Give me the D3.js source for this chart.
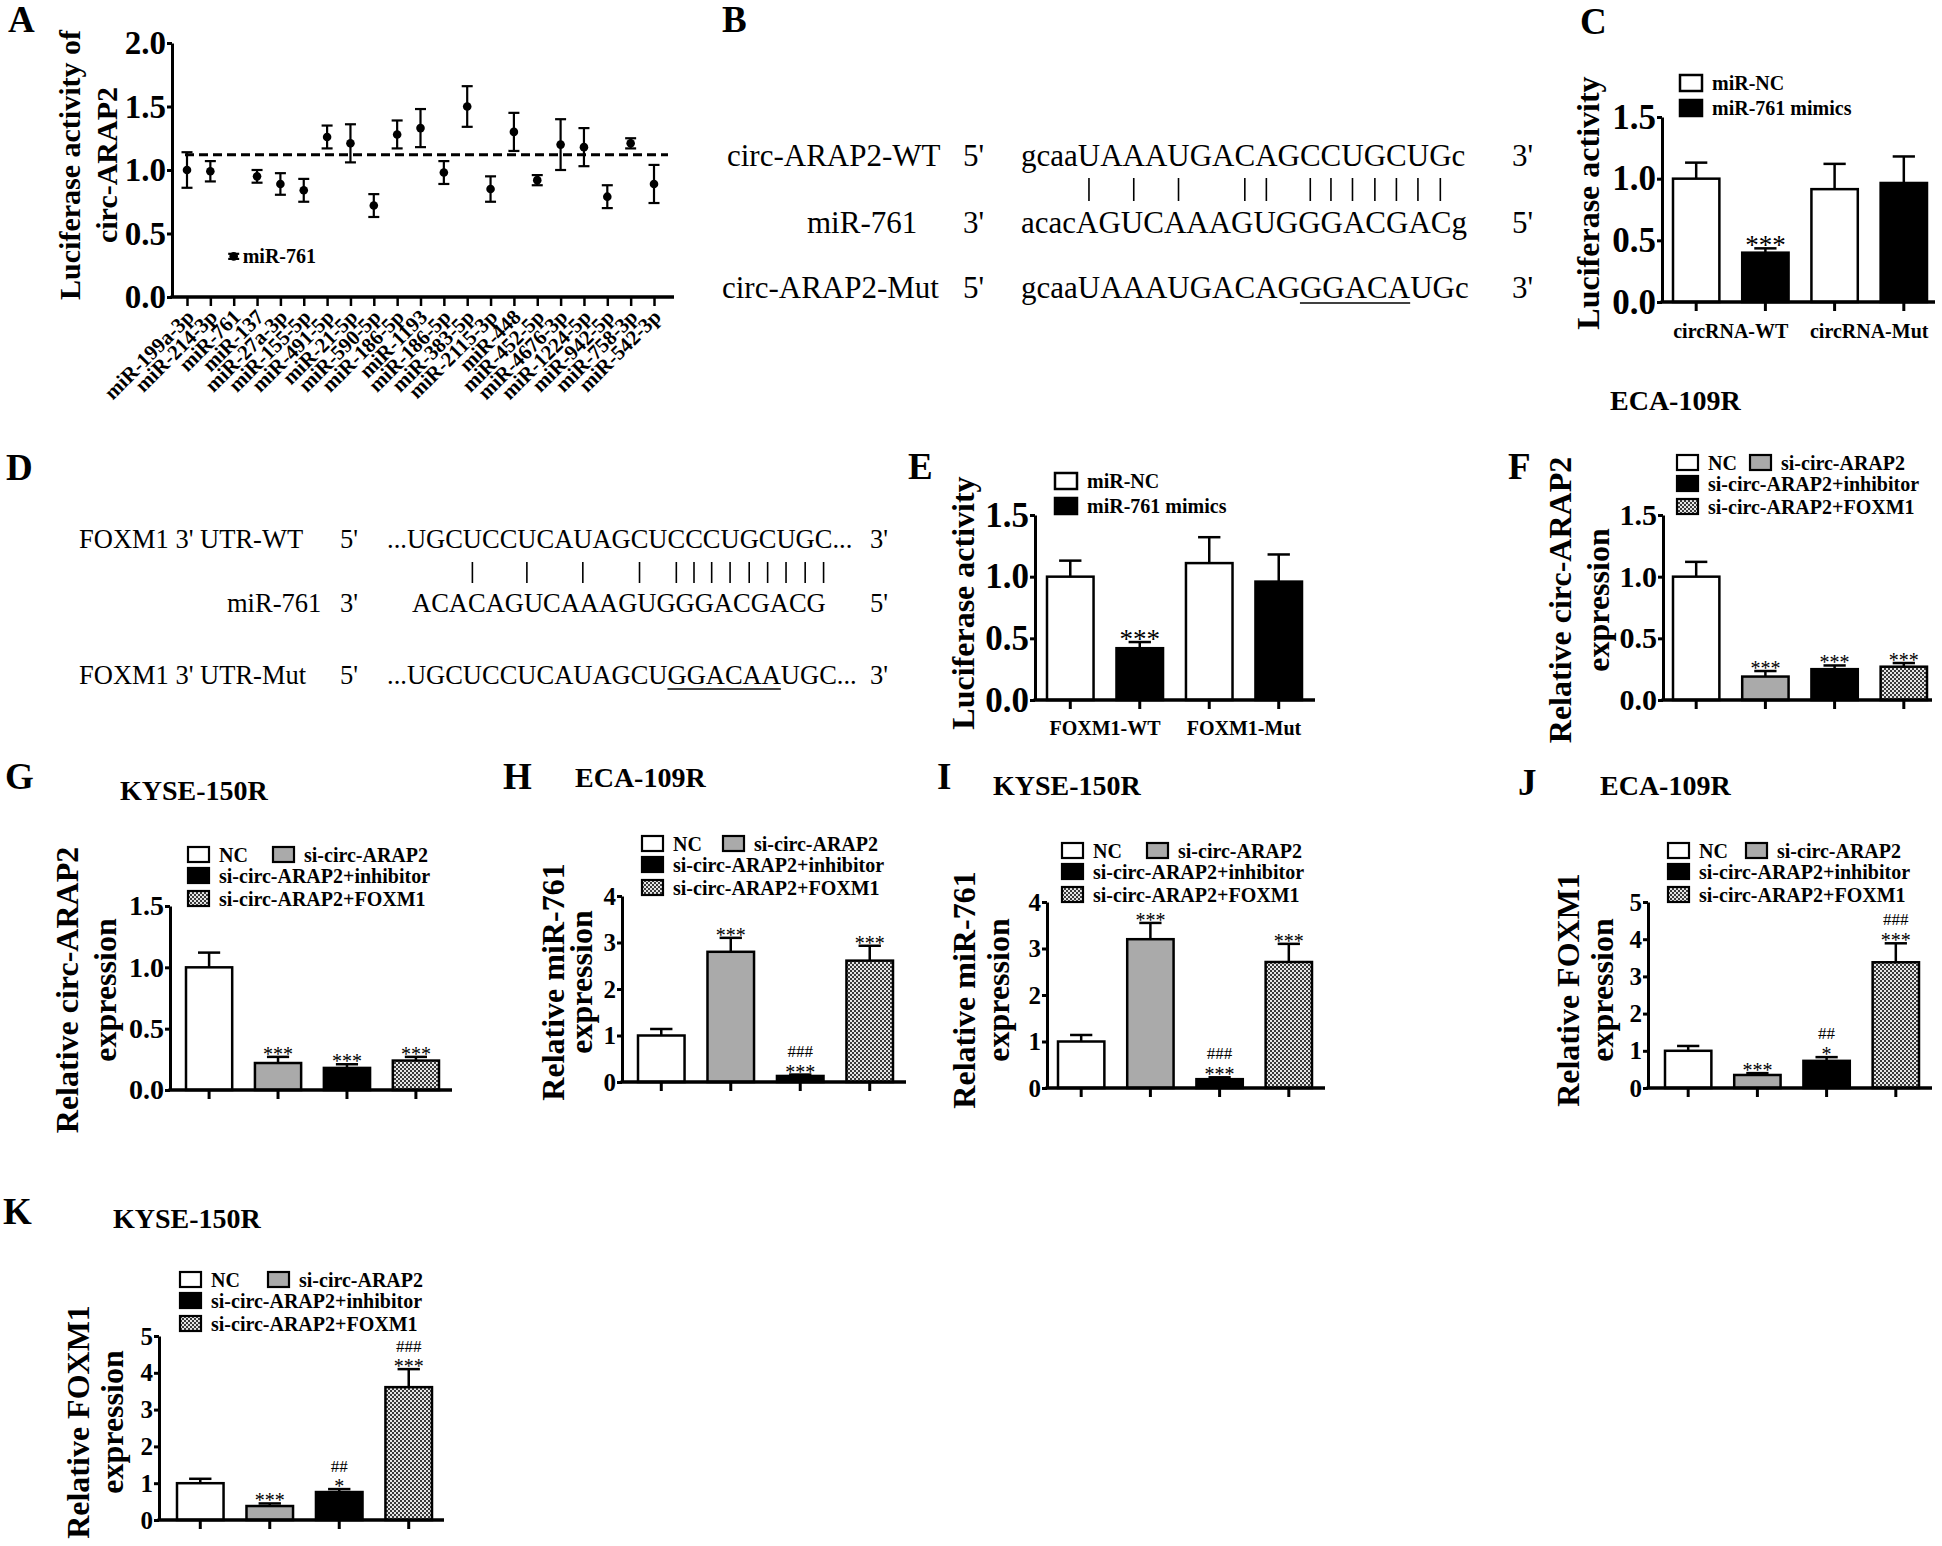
<!DOCTYPE html>
<html><head><meta charset="utf-8">
<script src="https://cdn.jsdelivr.net/npm/d3@7"></script>
<style>
html,body{margin:0;padding:0;background:#fff;}
svg{display:block;}
text{font-family:"Liberation Serif","Times New Roman",serif;fill:#000;}
</style></head><body>
<svg id="fig" width="1942" height="1546"></svg>
<script>
// ================= DATA =================
// Panel A: luciferase screen
const screenCategories = ["miR-199a-3p","miR-214-3p","miR-761","miR-137","miR-27a-3p","miR-155-5p","miR-491-5p","miR-21-5p","miR-590-5p","miR-186-5p","miR-1193","miR-186-5p","miR-383-5p","miR-2115-3p","miR-448","miR-452-5p","miR-4676-3p","miR-1224-5p","miR-942-5p","miR-758-3p","miR-542-3p"];
const screenMeans  = [1.00,0.99,0.32,0.95,0.89,0.84,1.26,1.21,0.72,1.28,1.33,0.98,1.50,0.85,1.30,0.92,1.20,1.18,0.79,1.21,0.89];
const screenErrors = [0.14,0.08,0.02,0.05,0.085,0.09,0.09,0.15,0.09,0.11,0.15,0.09,0.16,0.10,0.15,0.04,0.20,0.15,0.09,0.04,0.15];
const screenThreshold = 1.12;
const screenYTicks = [0,0.5,1.0,1.5,2.0];
const screenHighlight = "miR-761";

// Panels B / D: sequences
const circLabels = ["circ-ARAP2-WT","miR-761","circ-ARAP2-Mut"];
const circEnds   = [["5'","3'"],["3'","5'"],["5'","3'"]];
const circSeqs   = ["gcaaUAAAUGACAGCCUGCUGc","acacAGUCAAAGUGGGACGACg","gcaaUAAAUGACAGGGACAUGc"];
const circPairs  = [4,6,8,11,12,14,15,16,17,18,19,20];
const circMutSpan = [14,18];
const foxLabels  = ["FOXM1 3' UTR-WT","miR-761","FOXM1 3' UTR-Mut"];
const foxEnds    = [["5'","3'"],["3'","5'"],["5'","3'"]];
const foxSeqs    = ["...UGCUCCUCAUAGCUCCCUGCUGC...","ACACAGUCAAAGUGGGACGACG","...UGCUCCUCAUAGCUGGACAAUGC..."];
const foxPairs   = [6,9,12,15,17,18,19,20,21,22,23,24,25];
const foxMutSpan = [17,22];

// Panels C / E: dual luciferase
const lucSeries  = ["miR-NC","miR-761 mimics"];
const lucYTicks  = [0,0.5,1.0,1.5];
const lucCGroups = ["circRNA-WT","circRNA-Mut"];
const lucCMeans  = [1.00,0.40,0.915,0.965];
const lucCErrors = [0.13,0.035,0.205,0.215];
const lucCSig    = [[],["***"],[],[]];
const lucEGroups = ["FOXM1-WT","FOXM1-Mut"];
const lucEMeans  = [1.00,0.42,1.11,0.96];
const lucEErrors = [0.13,0.05,0.21,0.22];
const lucESig    = [[],["***"],[],[]];

// Panels F-K: rescue experiments
const rescueGroups = ["NC","si-circ-ARAP2","si-circ-ARAP2+inhibitor","si-circ-ARAP2+FOXM1"];
const circYTicks = [0,0.5,1.0,1.5];
const mirYTicks  = [0,1,2,3,4];
const foxYTicks  = [0,1,2,3,4,5];
const fMeans = [1.00,0.19,0.25,0.27], fErrors = [0.12,0.045,0.03,0.03], fSig = [[],["***"],["***"],["***"]];
const gMeans = [1.00,0.22,0.18,0.24], gErrors = [0.12,0.05,0.03,0.03], gSig = [[],["***"],["***"],["***"]];
const hMeans = [1.00,2.80,0.13,2.61], hErrors = [0.14,0.30,0.03,0.32], hSig = [[],["***"],["***","###"],["***"]];
const iMeans = [1.00,3.20,0.19,2.71], iErrors = [0.14,0.35,0.04,0.39], iSig = [[],["***"],["***","###"],["***"]];
const jMeans = [1.00,0.35,0.73,3.38], jErrors = [0.13,0.05,0.10,0.51], jSig = [[],["***"],["*","##"],["***","###"]];
const kMeans = [1.00,0.38,0.76,3.61], kErrors = [0.12,0.07,0.08,0.49], kSig = [[],["***"],["*","##"],["***","###"]];

// ================= DRAWING =================
const svg = d3.select("#fig");
const defs = svg.append("defs");
const pat = defs.append("pattern").attr("id","chk").attr("width",4).attr("height",4).attr("patternUnits","userSpaceOnUse");
pat.append("rect").attr("width",4).attr("height",4).attr("fill","#e6e6e6");
pat.append("rect").attr("width",2).attr("height",2).attr("fill","#3a3a3a");
pat.append("rect").attr("x",2).attr("y",2).attr("width",2).attr("height",2).attr("fill","#3a3a3a");

const lucFills = ["#fff","#000"];
const rescueFills = ["#fff","#aaaaaa","#000","url(#chk)"];

function letter(l,x,y){
  svg.append("text").attr("x",x).attr("y",y).attr("font-size",37).attr("font-weight","bold").text(l);
}
function yTitle(lines,xs,cy,fs){
  lines.forEach((t,i)=>svg.append("text")
    .attr("transform",`translate(${xs[i]},${cy}) rotate(-90)`)
    .attr("text-anchor","middle").attr("font-size",fs).attr("font-weight","bold").text(t));
}
function styleAxis(g,fs){
  g.select(".domain").attr("stroke","#000").attr("stroke-width",3);
  g.selectAll(".tick line").attr("stroke","#000").attr("stroke-width",3);
  g.selectAll(".tick text").attr("font-size",fs).attr("font-weight","bold")
    .attr("font-family","'Liberation Serif','Times New Roman',serif").attr("fill","#000");
}

// ---------- Panel A ----------
(function(){
  const axisX=172, axisEnd=674, y0=297, yTop=43;
  const y = d3.scaleLinear().domain([0,2]).range([y0,yTop]);
  const x = d3.scalePoint().domain(d3.range(screenCategories.length)).range([187,654]);
  const g = svg.append("g");
  g.append("line").attr("x1",185).attr("x2",668).attr("y1",y(screenThreshold)).attr("y2",y(screenThreshold))
    .attr("stroke","#000").attr("stroke-width",3).attr("stroke-dasharray","9,5");
  screenMeans.forEach((m,i)=>{
    const cx=x(i), e=screenErrors[i];
    g.append("line").attr("x1",cx).attr("x2",cx).attr("y1",y(m-e)).attr("y2",y(m+e)).attr("stroke","#000").attr("stroke-width",2.2);
    [m-e,m+e].forEach(v=>g.append("line").attr("x1",cx-5.5).attr("x2",cx+5.5).attr("y1",y(v)).attr("y2",y(v)).attr("stroke","#000").attr("stroke-width",2.2));
    g.append("circle").attr("cx",cx).attr("cy",y(m)).attr("r",4.3).attr("fill","#000");
  });
  const hi = screenCategories.indexOf(screenHighlight);
  g.append("text").attr("x",x(hi)+9).attr("y",y(screenMeans[hi])+7).attr("font-size",20).attr("font-weight","bold").text(screenHighlight);
  const ya = g.append("g").attr("transform",`translate(${axisX},0)`)
    .call(d3.axisLeft(y).tickValues(screenYTicks).tickFormat(d3.format(".1f")).tickSize(5).tickSizeOuter(0).tickPadding(1));
  styleAxis(ya,33);
  g.append("line").attr("x1",axisX-1.5).attr("x2",axisEnd).attr("y1",y0).attr("y2",y0).attr("stroke","#000").attr("stroke-width",3.5);
  const xa = g.append("g").attr("transform",`translate(0,${y0})`)
    .call(d3.axisBottom(x).tickSize(9).tickFormat(""));
  xa.select(".domain").remove();
  xa.selectAll(".tick line").attr("stroke","#000").attr("stroke-width",2.5);
  screenCategories.forEach((c,i)=>{
    g.append("text").attr("transform",`translate(${x(i)+3},${y0+16}) rotate(-45)`)
      .attr("text-anchor","end").attr("dy","0.35em").attr("font-size",21).attr("font-weight","bold").text(c);
  });
  yTitle(["Luciferase activity of","circ-ARAP2"],[80,117],165,30);
})();

// ---------- Sequence panels ----------
function seqPanel(c){
  const nodes=[];
  c.seqs.forEach((s,i)=>{
    svg.append("text").attr("x",c.labelX[i]).attr("y",c.base[i]).attr("font-size",c.fs).text(c.labels[i]);
    svg.append("text").attr("x",c.primeX).attr("y",c.base[i]).attr("font-size",c.fs).text(c.ends[i][0]);
    const t=svg.append("text").attr("x",c.seqX[i]).attr("y",c.base[i]).attr("font-size",c.fs).text(s);
    nodes.push(t.node());
    svg.append("text").attr("x",c.endX).attr("y",c.base[i]).attr("font-size",c.fs).text(c.ends[i][1]);
  });
  c.pairs.forEach(k=>{
    const r=nodes[0].getExtentOfChar(k);
    const cx=r.x+r.width/2;
    svg.append("line").attr("x1",cx).attr("x2",cx).attr("y1",c.pairY[0]).attr("y2",c.pairY[1]).attr("stroke","#000").attr("stroke-width",1.6);
  });
  const a=nodes[2].getExtentOfChar(c.mut[0]), b=nodes[2].getExtentOfChar(c.mut[1]);
  svg.append("line").attr("x1",a.x).attr("x2",b.x+b.width).attr("y1",c.base[2]+5).attr("y2",c.base[2]+5).attr("stroke","#000").attr("stroke-width",1.6);
}
seqPanel({labels:circLabels,ends:circEnds,seqs:circSeqs,pairs:circPairs,mut:circMutSpan,
  labelX:[727,807,722],primeX:963,seqX:[1021,1021,1021],endX:1512,base:[166,233,298],pairY:[178,201],fs:31});
seqPanel({labels:foxLabels,ends:foxEnds,seqs:foxSeqs,pairs:foxPairs,mut:foxMutSpan,
  labelX:[79,227,79],primeX:340,seqX:[387,412,387],endX:870,base:[548,612,684],pairY:[562,583],fs:26.5});

// ---------- Bar panel ----------
function barPanel(p){
  const g=svg.append("g");
  const y=d3.scaleLinear().domain([0,p.yMax]).range([p.y0,p.yTop]);
  const x=d3.scaleBand().domain(d3.range(p.means.length)).range(p.barRange).paddingInner(0.33).paddingOuter(0);
  const bw=x.bandwidth(), cap=bw*0.48;
  p.means.forEach((m,i)=>{
    const cx=x(i)+bw/2, top=y(m+p.errors[i]);
    g.append("line").attr("x1",cx).attr("x2",cx).attr("y1",y(m)).attr("y2",top).attr("stroke","#000").attr("stroke-width",2.5);
    g.append("line").attr("x1",cx-cap/2).attr("x2",cx+cap/2).attr("y1",top).attr("y2",top).attr("stroke","#000").attr("stroke-width",2.5);
  });
  g.selectAll("rect.bar").data(p.means).enter().append("rect").attr("class","bar")
    .attr("x",(d,i)=>x(i)).attr("y",d=>y(d)).attr("width",bw).attr("height",d=>p.y0-y(d))
    .attr("fill",(d,i)=>p.fills[i%p.fills.length]).attr("stroke","#000").attr("stroke-width",2.5);
  // significance marks, bottom line first
  p.means.forEach((m,i)=>{
    const marks=p.sig[i]||[];
    let b=y(m+p.errors[i])+p.sigOff;
    const cx=x(i)+bw/2;
    marks.forEach((s,k)=>{
      const isHash=s.indexOf("#")>=0;
      g.append("text").attr("x",cx).attr("y",b).attr("text-anchor","middle")
        .attr("font-size",isHash?p.hashFont:p.starFont).attr("fill",p.sigColor).text(s);
      b-=p.sigStep;
    });
  });
  const ya=g.append("g").attr("transform",`translate(${p.axisX},0)`)
    .call(d3.axisLeft(y).tickValues(p.ticks).tickFormat(p.fmt).tickSize(5).tickSizeOuter(0).tickPadding(1));
  styleAxis(ya,p.tickFont);
  g.append("line").attr("x1",p.axisX-1.5).attr("x2",p.axisEnd).attr("y1",p.y0).attr("y2",p.y0).attr("stroke","#000").attr("stroke-width",3.5);
  const xa=g.append("g").attr("transform",`translate(0,${p.y0})`).call(d3.axisBottom(x).tickSize(9).tickFormat(""));
  xa.select(".domain").remove();
  xa.selectAll(".tick line").attr("stroke","#000").attr("stroke-width",3);
  if(p.groups){
    p.groups.forEach((t,gi)=>{
      const cx=(x(2*gi)+x(2*gi+1)+bw)/2;
      g.append("text").attr("x",cx).attr("y",p.labelY).attr("text-anchor","middle").attr("font-size",20).attr("font-weight","bold").text(t);
    });
  }
  yTitle(p.title,p.titleX,p.titleY,32);
}

function lucLegend(x,y){
  lucSeries.forEach((s,i)=>{
    svg.append("rect").attr("x",x).attr("y",y+i*25).attr("width",22).attr("height",16)
      .attr("fill",lucFills[i]).attr("stroke","#000").attr("stroke-width",2.5);
    svg.append("text").attr("x",x+32).attr("y",y+i*25+15).attr("font-size",20).attr("font-weight","bold").text(s);
  });
}
function rescueLegend(x,y,dx){
  const pos=[[x,y],[x+dx,y],[x,y+21],[x,y+44]];
  rescueGroups.forEach((s,i)=>{
    svg.append("rect").attr("x",pos[i][0]).attr("y",pos[i][1]).attr("width",21).attr("height",15)
      .attr("fill",rescueFills[i]).attr("stroke","#000").attr("stroke-width",2.2);
    svg.append("text").attr("x",pos[i][0]+31).attr("y",pos[i][1]+15).attr("font-size",20).attr("font-weight","bold").text(s);
  });
}
function cellTitle(t,x,y){
  svg.append("text").attr("x",x).attr("y",y).attr("font-size",28).attr("font-weight","bold").text(t);
}

const f1=d3.format(".1f"), f0=d3.format("d");
const lucCommon={fills:lucFills,ticks:lucYTicks,fmt:f1,yMax:1.5,tickFont:35,sigColor:"#000",starFont:27,hashFont:22,sigOff:6,sigStep:22};
barPanel(Object.assign({},lucCommon,{means:lucCMeans,errors:lucCErrors,sig:lucCSig,groups:lucCGroups,
  axisX:1662,axisEnd:1935,y0:302,yTop:117,barRange:[1673,1927],labelY:338,title:["Luciferase activity"],titleX:[1599],titleY:203}));
lucLegend(1680,75);
barPanel(Object.assign({},lucCommon,{means:lucEMeans,errors:lucEErrors,sig:lucESig,groups:lucEGroups,
  axisX:1035,axisEnd:1315,y0:700,yTop:515,barRange:[1047,1302],labelY:735,title:["Luciferase activity"],titleX:[974],titleY:603}));
lucLegend(1055,473);

const resCommon={fills:rescueFills,sigColor:"#555",starFont:20,hashFont:17,sigOff:4,sigStep:22};
barPanel(Object.assign({},resCommon,{means:fMeans,errors:fErrors,sig:fSig,ticks:circYTicks,fmt:f1,yMax:1.5,tickFont:30,
  axisX:1663,axisEnd:1932,y0:700,yTop:515,barRange:[1673,1927],title:["Relative circ-ARAP2","expression"],titleX:[1571,1609],titleY:600}));
rescueLegend(1677,455,73); cellTitle("ECA-109R",1610,410);
barPanel(Object.assign({},resCommon,{means:gMeans,errors:gErrors,sig:gSig,ticks:circYTicks,fmt:f1,yMax:1.5,tickFont:28,
  axisX:170,axisEnd:452,y0:1090,yTop:906,barRange:[186,439],title:["Relative circ-ARAP2","expression"],titleX:[78,116],titleY:990}));
rescueLegend(188,847,85); cellTitle("KYSE-150R",120,800);
barPanel(Object.assign({},resCommon,{means:hMeans,errors:hErrors,sig:hSig,ticks:mirYTicks,fmt:f0,yMax:4,tickFont:25,
  axisX:622,axisEnd:906,y0:1082,yTop:896,barRange:[638,893],title:["Relative miR-761","expression"],titleX:[564,592],titleY:982}));
rescueLegend(642,836,81); cellTitle("ECA-109R",575,787);
barPanel(Object.assign({},resCommon,{means:iMeans,errors:iErrors,sig:iSig,ticks:mirYTicks,fmt:f0,yMax:4,tickFont:25,
  axisX:1047,axisEnd:1325,y0:1088,yTop:902,barRange:[1058,1312],title:["Relative miR-761","expression"],titleX:[975,1009],titleY:990}));
rescueLegend(1062,843,85); cellTitle("KYSE-150R",993,795);
barPanel(Object.assign({},resCommon,{means:jMeans,errors:jErrors,sig:jSig,ticks:foxYTicks,fmt:f0,yMax:5,tickFont:25,
  axisX:1648,axisEnd:1932,y0:1088,yTop:902,barRange:[1665,1919],title:["Relative FOXM1","expression"],titleX:[1579,1613],titleY:990}));
rescueLegend(1668,843,78); cellTitle("ECA-109R",1600,795);
barPanel(Object.assign({},resCommon,{means:kMeans,errors:kErrors,sig:kSig,ticks:foxYTicks,fmt:f0,yMax:5,tickFont:25,sigStep:21,
  axisX:159,axisEnd:444,y0:1520,yTop:1336,barRange:[177,432],title:["Relative FOXM1","expression"],titleX:[89,123],titleY:1422}));
rescueLegend(180,1272,88); cellTitle("KYSE-150R",113,1228);

[["A",8,32],["B",722,32],["C",1580,34],["D",6,480],["E",908,479],["F",1508,479],["G",5,789],["H",503,789],["I",937,789],["J",1518,795],["K",3,1224]]
  .forEach(d=>letter(d[0],d[1],d[2]));
</script>
</body></html>
